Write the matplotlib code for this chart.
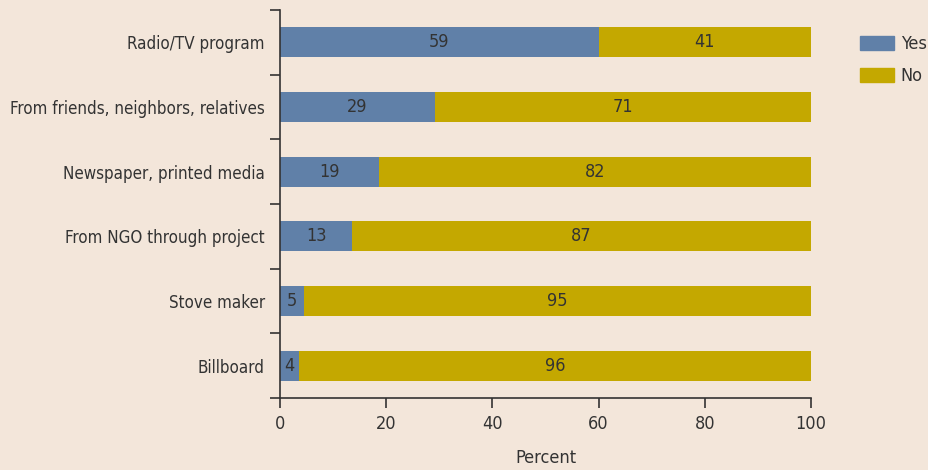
import matplotlib
matplotlib.use("Agg")
import matplotlib.pyplot as plt
from matplotlib.patches import Patch
from matplotlib.ticker import FixedLocator, NullFormatter

plt.rcParams['font.family'] = ['DejaVu Sans']
plt.rcParams['font.stretch'] = 'condensed'

categories = ["Radio/TV program", "From friends, neighbors, relatives",
              "Newspaper, printed media", "From NGO through project",
              "Stove maker", "Billboard"]
yes_vals = [60.0, 29.2, 18.6, 13.6, 4.5, 3.6]
no_vals = [40.0, 70.8, 81.4, 86.4, 95.5, 96.4]
yes_labels = ["59", "29", "19", "13", "5", "4"]
no_labels = ["41", "71", "82", "87", "95", "96"]
xticks = [0, 20, 40, 60, 80, 100]

bg = "#F3E6DA"
c_yes = "#6080A8"
c_no = "#C4A800"
txt = "#333333"
fs = 13
fs_lab = 12.2

fig = plt.figure(figsize=(9.29, 4.70), dpi=100, facecolor=bg)
ax = fig.add_axes([280/929, 1-398/470, (811-280)/929, (398-10)/470])
ax.set_facecolor(bg)

pos = list(range(len(categories)))
h = 0.46
ax.barh(pos, yes_vals, height=h, color=c_yes, label="Yes")
ax.barh(pos, no_vals, left=yes_vals, height=h, color=c_no, label="No")

for i in pos:
    ax.text(yes_vals[i] / 2, i, yes_labels[i], ha="center", va="center",
            fontsize=fs, color=txt)
    ax.text(yes_vals[i] + no_vals[i] / 2, i, no_labels[i], ha="center",
            va="center", fontsize=fs, color=txt)

ax.set_ylim(len(categories) - 0.5, -0.5)
ax.set_xlim(0, 100)
ax.set_yticks(pos)
ax.set_yticklabels(categories, fontsize=fs_lab, color=txt)
ax.tick_params(axis="y", which="major", length=0, pad=11)
ax.yaxis.set_minor_locator(FixedLocator([i - 0.5 for i in range(len(categories) + 1)]))
ax.yaxis.set_minor_formatter(NullFormatter())
ax.tick_params(axis="y", which="minor", length=7, width=1.2, color=txt)
ax.set_xticks(xticks)
ax.set_xticklabels([str(v) for v in xticks], fontsize=fs, color=txt)
ax.tick_params(axis="x", length=7, width=1.2, color=txt, pad=5)
ax.set_xlabel("Percent", fontsize=fs, color=txt, labelpad=12)

for s in ["top", "right"]:
    ax.spines[s].set_visible(False)
for s in ["left", "bottom"]:
    ax.spines[s].set_color(txt)
    ax.spines[s].set_linewidth(1.2)

handles = [Patch(color=c_yes, label="Yes"), Patch(color=c_no, label="No")]
fig.legend(handles=handles, loc="upper left", bbox_to_anchor=(860/929, 1-35/470),
           frameon=False, fontsize=fs, handlelength=1.9, handleheight=0.8,
           handletextpad=0.35, labelspacing=0.8, borderaxespad=0, borderpad=0,
           labelcolor=txt)

fig.savefig("out.png", dpi=100, facecolor=bg)
